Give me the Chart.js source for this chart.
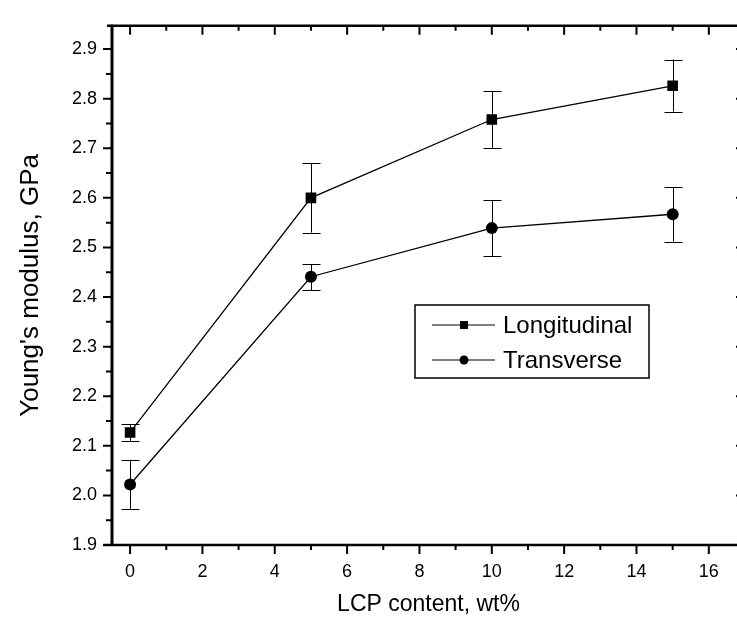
<!DOCTYPE html>
<html>
<head>
<meta charset="utf-8">
<script src="https://cdn.jsdelivr.net/npm/chart.js@4/dist/chart.umd.min.js"></script>
<style>
  html, body { margin: 0; padding: 0; background: #fff; overflow: hidden; }
  #wrap { width: 737px; height: 620px; overflow: hidden; position: relative; }
  canvas { display: block; }
</style>
</head>
<body>
<div id="wrap"><canvas id="c" width="760" height="620" style="width:760px;height:620px"></canvas></div>
<script>
// ---- data ----
const xValues = [0, 5, 10, 15];
const longitudinal = [2.127, 2.600, 2.758, 2.826];
const longErrLow = [2.110, 2.530, 2.701, 2.774];
const longErrHigh = [2.144, 2.670, 2.815, 2.879];
const transverse = [2.022, 2.441, 2.539, 2.567];
const transErrLow = [1.973, 2.414, 2.482, 2.512];
const transErrHigh = [2.072, 2.466, 2.595, 2.621];
const xTicks = [0, 2, 4, 6, 8, 10, 12, 14, 16];
const xMinorTicks = [1, 3, 5, 7, 9, 11, 13, 15];
const yTicks = [1.9, 2.0, 2.1, 2.2, 2.3, 2.4, 2.5, 2.6, 2.7, 2.8, 2.9];
const yMinorTicks = [1.95, 2.05, 2.15, 2.25, 2.35, 2.45, 2.55, 2.65, 2.75, 2.85];
const seriesNames = ['Longitudinal', 'Transverse'];
const xTitle = 'LCP content, wt%';
const yTitle = "Young's modulus, GPa";

const FONT = "'Liberation Sans', Arial, Helvetica, sans-serif";

const errorBars = [
  { low: longErrLow, high: longErrHigh },
  { low: transErrLow, high: transErrHigh }
];

const axesPlugin = {
  id: 'axesPlugin',
  beforeDatasetsDraw(chart) {
    const ctx = chart.ctx;
    const xs = chart.scales.x, ys = chart.scales.y;
    ctx.save();
    ctx.strokeStyle = '#000';
    ctx.lineWidth = 1;
    errorBars.forEach((eb, di) => {
      xValues.forEach((xv, i) => {
        const px = Math.round(xs.getPixelForValue(xv)) + 0.5;
        const yl = ys.getPixelForValue(eb.low[i]);
        const yh = ys.getPixelForValue(eb.high[i]);
        ctx.beginPath();
        ctx.moveTo(px, yl); ctx.lineTo(px, yh);
        ctx.moveTo(px - 9, Math.round(yl) + 0.5); ctx.lineTo(px + 9, Math.round(yl) + 0.5);
        ctx.moveTo(px - 9, Math.round(yh) + 0.5); ctx.lineTo(px + 9, Math.round(yh) + 0.5);
        ctx.stroke();
      });
    });
    ctx.restore();
  },
  afterDraw(chart) {
    const ctx = chart.ctx;
    const a = chart.chartArea;
    const xs = chart.scales.x, ys = chart.scales.y;
    ctx.save();
    ctx.strokeStyle = '#000';
    // axis lines
    ctx.lineWidth = 3;
    ctx.beginPath(); ctx.moveTo(a.left, a.top - 1); ctx.lineTo(a.left, a.bottom + 1); ctx.stroke();
    ctx.lineWidth = 2.5;
    ctx.beginPath(); ctx.moveTo(a.left - 9, a.bottom); ctx.lineTo(a.right, a.bottom); ctx.stroke();
    ctx.beginPath(); ctx.moveTo(a.left - 5, a.top); ctx.lineTo(a.right, a.top); ctx.stroke();
    ctx.lineWidth = 2;
    ctx.beginPath(); ctx.moveTo(a.right, a.top); ctx.lineTo(a.right, a.bottom); ctx.stroke();
    // ticks
    ctx.lineWidth = 2;
    ctx.beginPath();
    xTicks.forEach(v => {
      const p = xs.getPixelForValue(v);
      ctx.moveTo(p, a.bottom); ctx.lineTo(p, a.bottom + 9);
      ctx.moveTo(p, a.top); ctx.lineTo(p, a.top + 9);
    });
    xMinorTicks.forEach(v => {
      const p = xs.getPixelForValue(v);
      ctx.moveTo(p, a.bottom); ctx.lineTo(p, a.bottom + 5);
      ctx.moveTo(p, a.top); ctx.lineTo(p, a.top + 5);
    });
    yTicks.forEach(v => {
      const p = ys.getPixelForValue(v);
      ctx.moveTo(a.left - 9, p); ctx.lineTo(a.left, p);
      ctx.moveTo(a.right, p); ctx.lineTo(a.right - 9, p);
    });
    yMinorTicks.forEach(v => {
      const p = ys.getPixelForValue(v);
      ctx.moveTo(a.left - 6, p); ctx.lineTo(a.left, p);
      ctx.moveTo(a.right, p); ctx.lineTo(a.right - 5, p);
    });
    ctx.stroke();

    // legend
    const bx = 415, by = 305, bw = 234, bh = 73;
    ctx.lineWidth = 1.5;
    ctx.strokeRect(bx, by, bw, bh);
    const rows = [325, 360];
    chart.data.datasets.forEach((ds, i) => {
      const y = rows[i];
      ctx.lineWidth = 1.2;
      ctx.beginPath(); ctx.moveTo(432, y); ctx.lineTo(495, y); ctx.stroke();
      ctx.fillStyle = '#000';
      if (ds.pointStyle === 'rect') {
        ctx.fillRect(460, y - 4, 8, 8);
      } else {
        ctx.beginPath(); ctx.arc(464, y, 4.5, 0, Math.PI * 2); ctx.fill();
      }
      ctx.font = '24px ' + FONT;
      ctx.textBaseline = 'middle';
      ctx.textAlign = 'left';
      ctx.fillText(ds.label, 503, y + 1);
    });
    ctx.restore();
  }
};

new Chart(document.getElementById('c'), {
  type: 'line',
  data: {
    datasets: [
      {
        label: seriesNames[0],
        data: xValues.map((x, i) => ({ x, y: longitudinal[i] })),
        borderColor: '#000',
        backgroundColor: '#000',
        borderWidth: 1.3,
        pointStyle: 'rect',
        pointRadius: 7.5,
        pointBorderWidth: 0,
        pointBackgroundColor: '#000'
      },
      {
        label: seriesNames[1],
        data: xValues.map((x, i) => ({ x, y: transverse[i] })),
        borderColor: '#000',
        backgroundColor: '#000',
        borderWidth: 1.3,
        pointStyle: 'circle',
        pointRadius: 6,
        pointBorderWidth: 0,
        pointBackgroundColor: '#000'
      }
    ]
  },
  options: {
    responsive: false,
    animation: false,
    layout: { padding: { left: 0, top: 10, right: 15, bottom: 0 } },
    plugins: { legend: { display: false }, tooltip: { enabled: false } },
    scales: {
      x: {
        type: 'linear',
        min: -0.5,
        max: 17,
        afterBuildTicks: s => { s.ticks = xTicks.map(v => ({ value: v })); },
        afterFit: s => { s.height = 75; },
        grid: { display: false, drawTicks: false },
        border: { display: false },
        ticks: { color: '#000', font: { family: FONT, size: 18 }, padding: 16, maxRotation: 0, autoSkip: false,
                 callback: v => String(v) },
        title: { display: true, text: xTitle, color: '#000', font: { family: FONT, size: 23 }, padding: { top: 0, bottom: 2 } }
      },
      y: {
        type: 'linear',
        min: 1.9,
        max: 2.947,
        afterBuildTicks: s => { s.ticks = yTicks.map(v => ({ value: v })); },
        afterFit: s => { s.width = 112; },
        grid: { display: false, drawTicks: false },
        border: { display: false },
        ticks: { color: '#000', font: { family: FONT, size: 18 }, padding: 15, autoSkip: false,
                 callback: v => Number(v).toFixed(1) },
        title: { display: true, text: yTitle, color: '#000', font: { family: FONT, size: 26 }, padding: { top: 15, bottom: 0 } }
      }
    }
  },
  plugins: [axesPlugin]
});
</script>
</body>
</html>
